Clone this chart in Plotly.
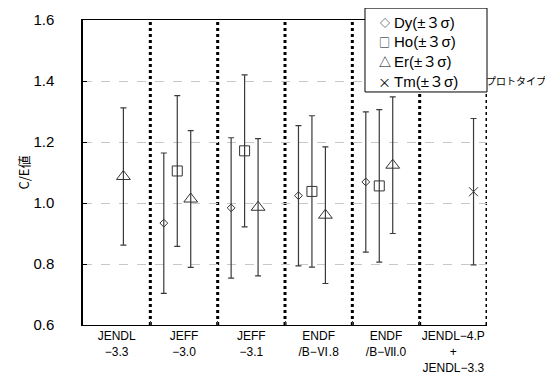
import plotly.graph_objects as go

categories = ["JENDL<br>−3.3", "JEFF<br>−3.0", "JEFF<br>−3.1",
              "ENDF<br>/B−Ⅵ.8", "ENDF<br>/B−Ⅶ.0", "JENDL−4.P<br>+<br>JENDL−3.3"]

dy_val = [None, 0.934, 0.984, 1.024, 1.069, None]
dy_err = [None, 0.230, 0.230, 0.230, 0.230, None]
ho_val = [None, 1.105, 1.171, 1.038, 1.056, None]
ho_err = [None, 0.247, 0.249, 0.248, 0.250, None]
er_val = [1.087, 1.013, 0.986, 0.960, 1.124, None]
er_err = [0.225, 0.224, 0.225, 0.224, 0.224, None]
tm_val = [None, None, None, None, None, 1.037]
tm_err = [None, None, None, None, None, 0.240]

series_names = ["Dy(±３σ)", "Ho(±３σ)", "Er(±３σ)", "Tm(±３σ)"]
legend_glyphs = ["◇", "□", "△", "×"]
glyph_sizes = [10, 11, 12, 13]
note_text = "プロトタイプ"

series = [
    (series_names[0], dy_val, dy_err, "diamond-open", 6),
    (series_names[1], ho_val, ho_err, "square-open", 10),
    (series_names[2], er_val, er_err, "triangle-up-open", 12),
    (series_names[3], tm_val, tm_err, "x-thin-open", 9),
]

FONT = "Liberation Sans, Arial, Noto Sans CJK JP, sans-serif"
CJK = "Noto Sans CJK JP"

fig = go.Figure()
for name, vals, errs, sym, sz in series:
    fig.add_trace(go.Scatter(
        x=categories, y=vals, name=name, mode="markers", showlegend=False,
        marker=dict(symbol=sym, size=sz, color="#333333",
                    line=dict(color="#333333", width=1)),
        error_y=dict(type="data", array=errs, visible=True,
                     color="#3a3a3a", thickness=1.2, width=3),
        cliponaxis=False,
    ))

shapes = []
for i in range(1, len(categories) + 1):
    shapes.append(dict(type="line", xref="x", yref="paper",
                       x0=i - 0.5, x1=i - 0.5, y0=0, y1=1,
                       line=dict(color="black", width=3, dash="dot"),
                       layer="below"))
# legend box (text-symbol legend as in the original)
shapes.append(dict(type="rect", xref="paper", yref="paper",
                   x0=0.698, x1=1.0, y0=0.764, y1=1.039,
                   line=dict(color="black", width=1), fillcolor="white",
                   layer="above"))

annotations = []
row_top, row_step = 0.9934, 0.0645
for k, (g, gs, n) in enumerate(zip(legend_glyphs, glyph_sizes, series_names)):
    yk = row_top - k * row_step
    annotations.append(dict(text=g, xref="paper", yref="paper",
                            x=0.7475, y=yk, xanchor="center", yanchor="middle",
                            showarrow=False,
                            font=dict(size=gs, family=CJK, color="black")))
    annotations.append(dict(text=n, xref="paper", yref="paper",
                            x=0.765, y=yk, xanchor="left", yanchor="middle",
                            showarrow=False,
                            font=dict(size=15, family=FONT, color="black")))
annotations.append(dict(text=note_text, xref="paper", yref="paper",
                        x=0.9926, y=0.803, xanchor="left", yanchor="middle",
                        showarrow=False,
                        font=dict(size=10, family=CJK)))

fig.update_layout(
    width=553, height=373,
    margin=dict(l=75, r=74, t=12, b=56, autoexpand=False),
    paper_bgcolor="white", plot_bgcolor="white",
    font=dict(family=FONT, color="black"),
    scattermode="group", scattergap=0.2,
    showlegend=False,
    shapes=shapes,
    annotations=annotations,
    xaxis=dict(type="category", range=[-0.5, len(categories) - 0.5],
               showline=True, linecolor="black", linewidth=1, mirror=True,
               showgrid=False, tickson="boundaries", ticks="inside",
               ticklen=4, tickangle=0, automargin=False,
               ticklabelstandoff=0,
               tickfont=dict(size=12, family=FONT)),
    yaxis=dict(range=[0.6, 1.6], dtick=0.2, tickformat=".1f",
               showline=True, linecolor="black", linewidth=1.5,
               ticks="inside", ticklen=4, tickcolor="black",
               showgrid=True, gridcolor="#c8c8c8", griddash="dash",
               gridwidth=1, zeroline=False, automargin=False,
               ticklabelstandoff=24,
               tickfont=dict(size=15, family=FONT),
               title=dict(text="C/E値", standoff=1,
                          font=dict(size=13, family=CJK))),
)

fig.write_html("out.html")
